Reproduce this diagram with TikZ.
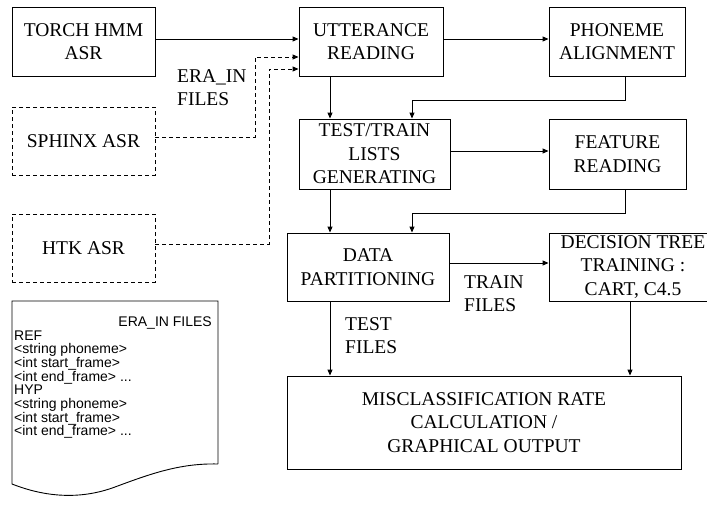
\documentclass[tikz,border=0pt]{standalone}
\usepackage{fontspec}
\setmainfont{Liberation Serif}
\newfontfamily\boxfont{Liberation Serif}
\newfontfamily\docfont{Liberation Sans}
\usetikzlibrary{arrows.meta}
\tikzset{
  box/.style={draw, line width=0.9pt, inner sep=0pt, align=center,
    font=\boxfont\fontsize{19.5}{23.5}\selectfont},
  dbox/.style={box, dash pattern=on 4pt off 3pt},
  arr/.style={line width=0.9pt, -{Triangle[length=6pt,width=5pt]}},
  darr/.style={arr, dash pattern=on 4pt off 3pt},
  lbl/.style={inner sep=0pt, align=left, anchor=north west,
    font=\boxfont\fontsize{19.5}{23.5}\selectfont},
  doctext/.style={inner sep=0pt, anchor=base west, font=\docfont\fontsize{14}{13.7}\selectfont},
  docshape/.style={draw, line width=0.9pt}
}
\begin{document}
\begin{tikzpicture}[x=1pt,y=-1pt]
\useasboundingbox (0,0) rectangle (707,506);
% left sources
\node[box, minimum width=143pt, minimum height=69pt] (torch) at (83.5,41.5) {TORCH HMM\\ASR};
\node[dbox, minimum width=143pt, minimum height=68pt] (sphinx) at (83.5,141) {SPHINX ASR};
\node[dbox, minimum width=143pt, minimum height=68pt] (htk) at (83.5,248) {HTK ASR};
% main column
\node[box, minimum width=144pt, minimum height=69pt] (utt) at (371,41.5) {UTTERANCE\\READING};
\node[box, minimum width=136pt, minimum height=69pt] (phon) at (617,41.5) {PHONEME\\ALIGNMENT};
\node[box, minimum width=151pt, minimum height=70pt] (test) at (374.5,154) {TEST/TRAIN\\LISTS\\GENERATING};
\node[box, minimum width=137pt, minimum height=70pt] (feat) at (617.5,154) {FEATURE\\READING};
\node[box, minimum width=162pt, minimum height=68pt] (data) at (368,267) {DATA\\PARTITIONING};
\node[box, minimum width=168pt, minimum height=68pt] (dec) at (633,267) {DECISION TREE\\TRAINING :\\CART, C4.5};
\node[box, minimum width=394pt, minimum height=93pt] (misc) at (484,422.5) {MISCLASSIFICATION RATE\\CALCULATION /\\GRAPHICAL OUTPUT};
% labels
\node[lbl] (era) at (177,69) {ERA\_IN\\FILES};
\node[lbl] (trainf) at (464,275) {TRAIN\\FILES};
\node[lbl] (testf) at (345,317) {TEST\\FILES};
% connectors
\draw[arr] (torch.east |- 0,39) -- (utt.west |- 0,39);
\draw[darr] (sphinx.east |- 0,137) -| (255,57) -- (utt.west |- 0,57);
\draw[darr] (htk.east |- 0,244) -| (269,69) -- (utt.west |- 0,69);
\draw[arr] (utt.east |- 0,39) -- (phon.west |- 0,39);
\draw[arr] (utt.south -| 330,0) -- (test.north -| 330,0);
\draw[arr] (phon.south -| 625,0) |- (412,100) -- (test.north -| 412,0);
\draw[arr] (test.east |- 0,151) -- (feat.west |- 0,151);
\draw[arr] (test.south -| 330,0) -- (data.north -| 330,0);
\draw[arr] (feat.south -| 625,0) |- (412,213) -- (data.north -| 412,0);
\draw[arr] (data.east |- 0,263) -- (dec.west |- 0,263);
\draw[arr] (data.south -| 330,0) -- (misc.north -| 330,0);
\draw[arr] (dec.south -| 630,0) -- (misc.north -| 630,0);
% document shape
\draw[docshape] (218,464) -- (218,301) -- (12,301) -- (12,484)
  .. controls (45,497) and (80,500) .. (115,487)
  .. controls (150,474) and (180,463) .. (218,464);
\node[doctext, anchor=base east] (doctitle) at (212,326) {ERA\_IN FILES};
\node[doctext] (dl0) at (14,340) {REF};
\node[doctext] (dl1) at (14,353.7) {<string phoneme>};
\node[doctext] (dl2) at (14,367.4) {<int start\_frame>};
\node[doctext] (dl3) at (14,381.1) {<int end\_frame> ...};
\node[doctext] (dl4) at (14,394.8) {HYP};
\node[doctext] (dl5) at (14,408.5) {<string phoneme>};
\node[doctext] (dl6) at (14,422.2) {<int start\_frame>};
\node[doctext] (dl7) at (14,435.9) {<int end\_frame> ...};
\end{tikzpicture}
\end{document}
